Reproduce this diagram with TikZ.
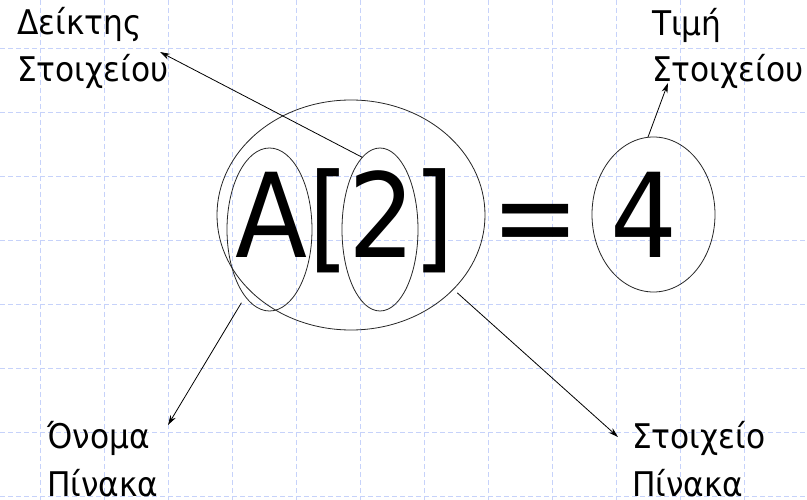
\documentclass[tikz,border=0pt]{standalone}
\usepackage{fontspec}
\setmainfont{DejaVu Sans}[FakeStretch=0.92]
\newfontfamily\bigfont{DejaVu Sans}[FakeStretch=0.9]
\usetikzlibrary{arrows.meta,shapes.geometric}
\definecolor{gridc}{RGB}{198,210,250}
\begin{document}
\begin{tikzpicture}[x=1pt,y=-1pt,
  gridline/.style={gridc, dash pattern=on 5pt off 3pt, line width=0.9pt},
  ring/.style={draw=black!85, line width=0.8pt, ellipse, inner sep=0pt},
  pointer/.style={draw=black, line width=0.8pt, -{Stealth[length=10pt,width=6pt]}},
  lbl/.style={anchor=base west, inner sep=0pt, align=left,
    font=\fontsize{34}{47}\selectfont},
  big/.style={anchor=base, inner sep=0pt, font=\bigfont\fontsize{117}{120}\selectfont}]
\useasboundingbox (0,0) rectangle (807,500);
\fill[white] (0,0) rectangle (807,500);
\foreach \k in {0,...,11} \draw[gridline] (40+64*\k,0) -- (40+64*\k,500);
\foreach \k in {0,...,7} \draw[gridline] (0,48+64*\k) -- (807,48+64*\k);
% big text
\node[big] (chA) at (272,258) {A};
\node[big] (lbr) at (329,258) {[};
\node[big] (two) at (381.5,258) {2};
\node[big] (rbr) at (434,258) {]};
\node[big] (eq) at (536,258) {=};
\node[big] (four) at (644,258) {4};
% ellipses
\node[ring, minimum width=268pt, minimum height=230pt] (bigell) at (351,215) {};
\node[ring, minimum width=85pt, minimum height=163pt] (Aell) at (269.5,229.5) {};
\node[ring, minimum width=76pt, minimum height=163pt] (twoell) at (380,229.5) {};
\node[ring, minimum width=123pt, minimum height=155pt] (fourell) at (653.5,214.5) {};
% labels (anchored at the baseline of their last line)
\node[lbl] (idx) at (17,82) {Δείκτης\\Στοιχείου};
\node[lbl] (val) at (652,82) {Τιμή\\[-1pt]Στοιχείου};
\node[lbl] (name) at (47,496) {Όνομα\\[1pt]Πίνακα};
\node[lbl] (elem) at (632,496) {Στοιχείο\\[1pt]Πίνακα};
% arrow tips
\coordinate (tidx) at (160,52);
\coordinate (tval) at (668,83);
\coordinate (tname) at (168,425);
\coordinate (telem) at (618,437);
\draw[pointer] (twoell.104) -- (tidx);
\draw[pointer] (fourell.94) -- (tval);
\draw[pointer, shorten <=7pt] (Aell.250) -- (tname);
\draw[pointer, shorten <=5pt] (bigell.-36) -- (telem);
\end{tikzpicture}
\end{document}
